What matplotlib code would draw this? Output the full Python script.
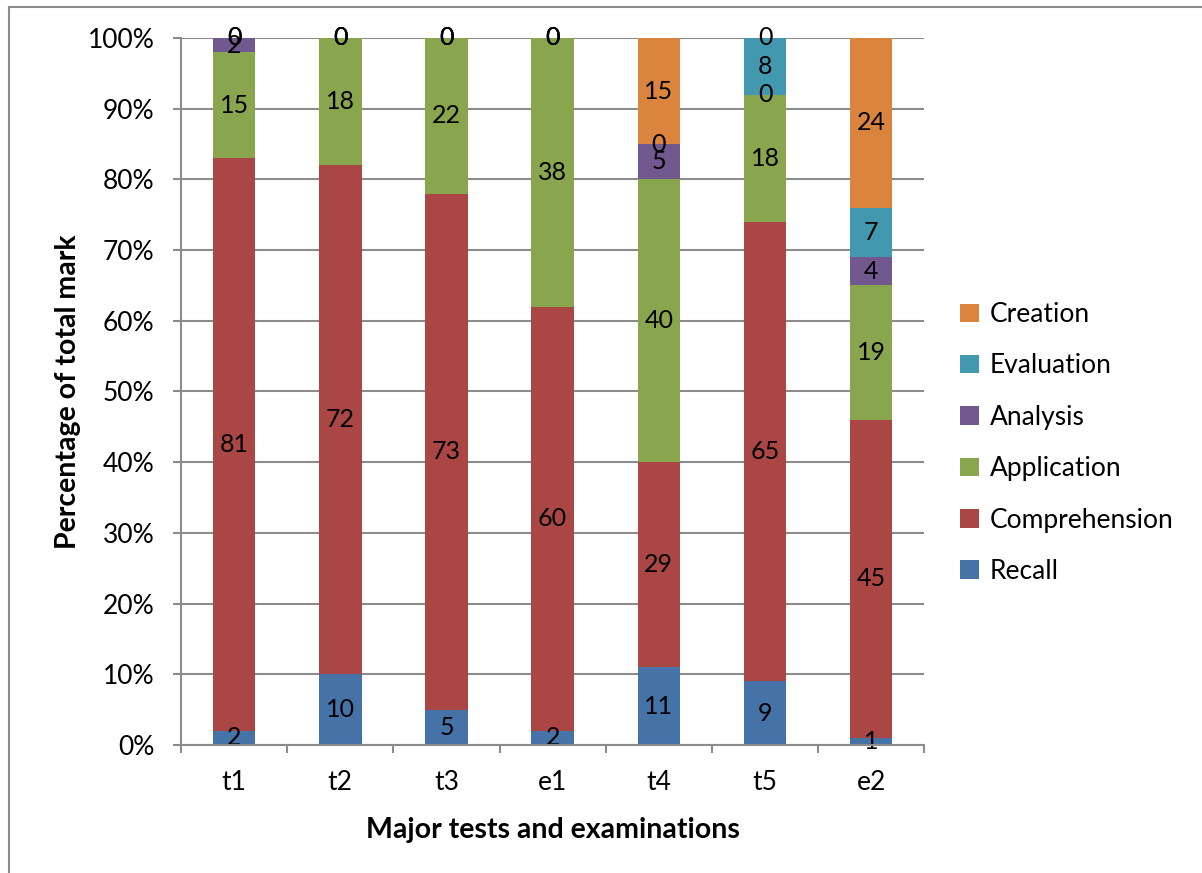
import matplotlib
matplotlib.use("Agg")
import matplotlib.pyplot as plt
from matplotlib.lines import Line2D
from matplotlib.ticker import FuncFormatter
import numpy as np

plt.rcParams['font.family'] = ['Lato', 'DejaVu Sans']

tests = ["t1", "t2", "t3", "e1", "t4", "t5", "e2"]
levels = ["Recall", "Comprehension", "Application", "Analysis", "Evaluation", "Creation"]
recall = [2, 10, 5, 2, 11, 9, 1]
comprehension = [81, 72, 73, 60, 29, 65, 45]
application = [15, 18, 22, 38, 40, 18, 19]
analysis = [2, 0, 0, 0, 5, 0, 4]
evaluation = [0, 0, 0, 0, 0, 8, 7]
creation = [0, 0, 0, 0, 15, 0, 24]
colors = ["#4572A7", "#AA4643", "#89A54E", "#71588F", "#4198AF", "#DB843D"]

series = [recall, comprehension, application, analysis, evaluation, creation]

fig = plt.figure(figsize=(12.02, 8.73), dpi=100)
ax = fig.add_axes([0.1506, 0.1466, 0.769 - 0.1506, 0.9565 - 0.1466])

x = np.arange(len(tests))
bottom = np.zeros(len(tests))
for name, vals, col in zip(levels, series, colors):
    vals = np.array(vals, dtype=float)
    bars = ax.bar(x, vals, 0.4, bottom=bottom, color=col, label=name, zorder=3)
    ax.bar_label(bars, labels=[str(int(v)) for v in vals], label_type="center",
                 fontsize=18, color="black", zorder=4)
    bottom += vals

ax.set_xlim(-0.5, len(tests) - 0.5)
ax.set_ylim(0, 100)
ax.set_yticks(np.arange(0, 101, 10))
ax.yaxis.set_major_formatter(FuncFormatter(lambda v, p: "%d%%" % v))
ax.set_xticks(x)
ax.set_xticklabels(tests)
ax.set_xticks(np.arange(-0.5, len(tests), 1), minor=True)

grid_col = "#8c8c8c"
ax.yaxis.grid(True, color=grid_col, linewidth=1.5, zorder=0)
for s in ["top", "right"]:
    ax.spines[s].set_visible(False)
for s in ["left", "bottom"]:
    ax.spines[s].set_color(grid_col)
    ax.spines[s].set_linewidth(1.5)
    ax.spines[s].set_zorder(5)
ax.tick_params(axis="y", direction="out", length=6, width=1.5, color=grid_col,
               labelsize=19, pad=13)
ax.tick_params(axis="x", which="major", length=0, labelsize=19, pad=18)
ax.tick_params(axis="x", which="minor", direction="out", length=6, width=1.5, color=grid_col)

ax.set_ylabel("Percentage of total mark", fontsize=20.5, fontweight="bold", labelpad=5)
ax.set_xlabel("Major tests and examinations", fontsize=20.5, fontweight="bold", labelpad=16)

handles, labs = ax.get_legend_handles_labels()
ax.legend(handles[::-1], labs[::-1], loc="center left", bbox_to_anchor=(0.799, 0.4926),
          bbox_transform=fig.transFigure, frameon=False, fontsize=19,
          handlelength=0.7, handleheight=0.7, handletextpad=0.4, labelspacing=1.0,
          borderpad=0, borderaxespad=0)

# outer chart frame (partly cut off)
fig.add_artist(Line2D([9 / 1202, 9 / 1202], [0, 1 - 7 / 873], color=grid_col, linewidth=1.5))
fig.add_artist(Line2D([9 / 1202, 1], [1 - 7 / 873, 1 - 7 / 873], color=grid_col, linewidth=1.5))

fig.savefig("out.png", dpi=100)
